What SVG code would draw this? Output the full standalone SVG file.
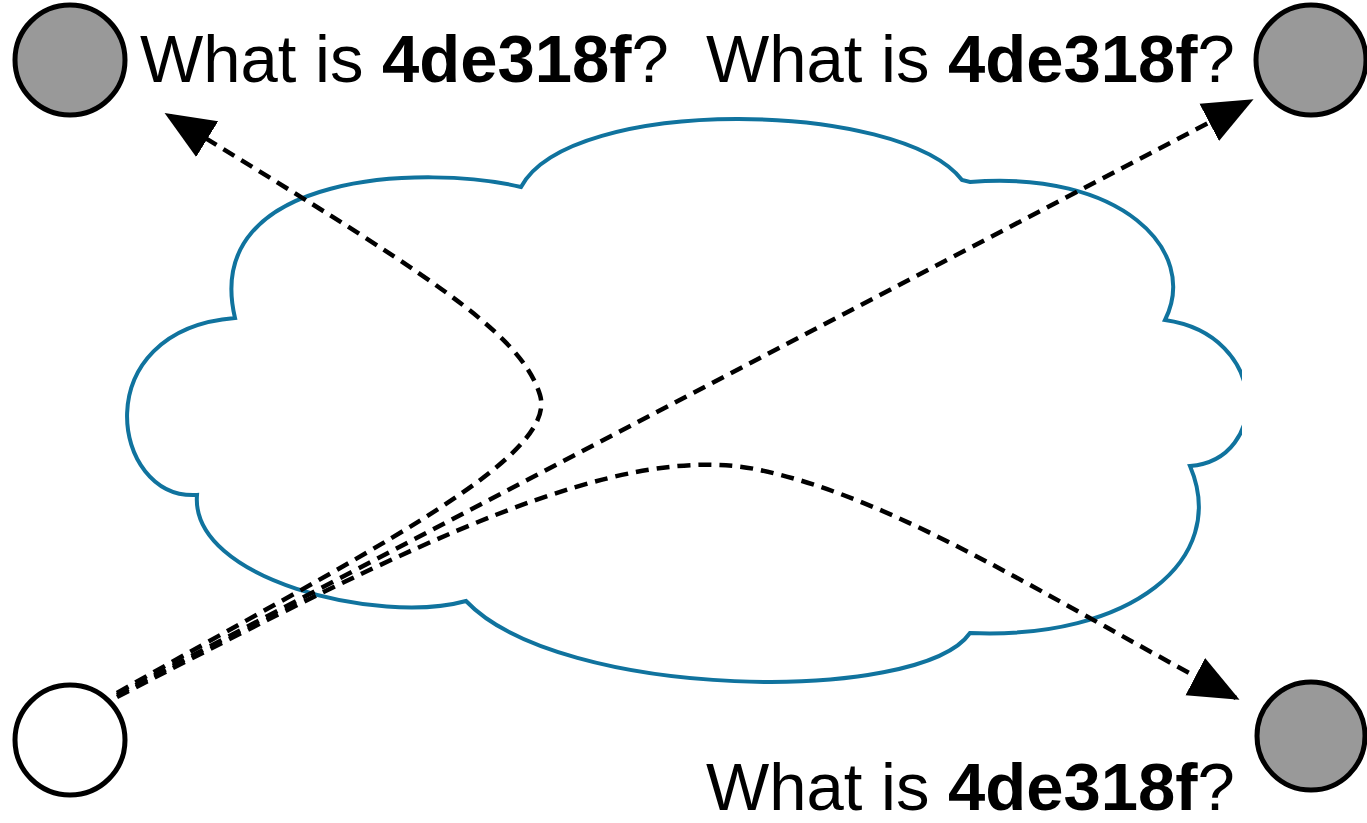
<svg xmlns="http://www.w3.org/2000/svg" width="1367" height="823" viewBox="0 0 1367 823">
<style>
.node{stroke:#000;stroke-width:5}
.gray{fill:#999}
.white{fill:#fff}
.lbl{font-family:"Liberation Sans",Arial,sans-serif;font-size:67px;fill:#000}
.b{font-weight:bold}
.edge{fill:none;stroke:#000;stroke-width:4.5;stroke-dasharray:13 8}
.cloud{fill:none;stroke:#10739E;stroke-width:4}
</style>
<defs>
<marker id="ah" markerUnits="userSpaceOnUse" markerWidth="52" markerHeight="52" viewBox="0 0 52 52" refX="46" refY="26" orient="auto">
<path d="M0 5 L50 26 L0 47 Z" fill="#000"/>
</marker>
<clipPath id="cc"><rect x="0" y="0" width="1242" height="823"/></clipPath>
</defs>
<rect width="1367" height="823" fill="#fff"/>
<g id="cloud">
<path class="cloud" clip-path="url(#cc)" d="M521,187 C570,95 900,100 962,180 L970,182 C1120,170 1200,250 1165,320 C1270,335 1270,460 1190,466 C1230,560 1130,640 970,633 C920,705 560,700 466,601 C380,625 190,580 197,495 C110,500 85,330 235,318 C200,170 430,165 521,187 Z"/>
</g>
<g id="node-tl"><circle class="node gray" cx="70" cy="60" r="55"/></g>
<g id="node-tr"><circle class="node gray" cx="1311" cy="60" r="55"/></g>
<g id="node-br"><circle class="node gray" cx="1311" cy="736" r="54"/></g>
<g id="node-bl"><circle class="node white" cx="70" cy="740" r="55"/></g>
<g id="label-tl"><text class="lbl" x="140" y="82">What is <tspan class="b">4de318f</tspan>?</text></g>
<g id="label-tr"><text class="lbl" x="706" y="82">What is <tspan class="b">4de318f</tspan>?</text></g>
<g id="label-br"><text class="lbl" x="706" y="810">What is <tspan class="b">4de318f</tspan>?</text></g>
<g id="connectors">
<path class="edge" marker-end="url(#ah)" d="M117,693 C350,560 560,460 540,395 C520,330 420,270 168,115"/>
<path class="edge" marker-end="url(#ah)" d="M117,695 L1250,101"/>
<path class="edge" marker-end="url(#ah)" d="M117,697 C420,540 620,440 760,470 C900,500 1050,600 1236,698"/>
</g>
</svg>
